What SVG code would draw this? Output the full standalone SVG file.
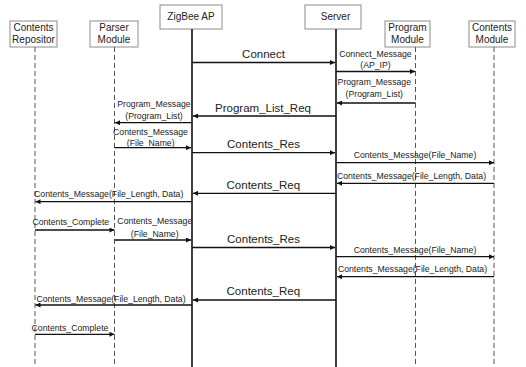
<svg xmlns="http://www.w3.org/2000/svg" width="526" height="367" viewBox="0 0 526 367">
<defs>
<marker id="ah" viewBox="0 0 10 10" refX="10" refY="5" markerWidth="6" markerHeight="5" markerUnits="userSpaceOnUse" orient="auto"><path d="M0,0 L10,5 L0,10 z" fill="#111"/></marker>
<style>
.box{fill:#fff;stroke:#8c8c8c;stroke-width:1}
text{font-family:"Liberation Sans",Arial,sans-serif;fill:#222;text-anchor:middle}
.bt{font-size:10px}
.life{stroke:#555;stroke-width:1;stroke-dasharray:5 3;fill:none}
.solid{stroke:#111;stroke-width:1.6;fill:none}
.msg{stroke:#111;stroke-width:1.3;fill:none;marker-end:url(#ah)}
.lg{font-size:11.5px}
.sm{font-size:8.7px}
</style>
</defs>
<rect width="526" height="367" fill="#fff"/>
<g id="repositor">
<rect class="box" x="10" y="21" width="47" height="26"/>
<text class="bt" x="33.5" y="31">Contents</text>
<text class="bt" x="33.5" y="43">Repositor</text>
<line class="life" x1="35" y1="47" x2="35" y2="367"/>
</g>
<g id="parser">
<rect class="box" x="90" y="21" width="48" height="26"/>
<text class="bt" x="114" y="31">Parser</text>
<text class="bt" x="114" y="43">Module</text>
<line class="life" x1="114.5" y1="47" x2="114.5" y2="367"/>
</g>
<g id="zigbee">
<rect class="box" x="160" y="5" width="62" height="24"/>
<text class="bt" x="191" y="20">ZigBee AP</text>
<line class="solid" x1="192" y1="29" x2="192" y2="367"/>
</g>
<g id="server">
<rect class="box" x="305" y="5" width="56" height="24"/>
<text class="bt" x="335.5" y="20">Server</text>
<line class="solid" x1="336" y1="29" x2="336" y2="367"/>
</g>
<g id="program">
<rect class="box" x="385" y="21" width="45" height="26"/>
<text class="bt" x="407.5" y="31">Program</text>
<text class="bt" x="407.5" y="43">Module</text>
<line class="life" x1="415.5" y1="47" x2="415.5" y2="367"/>
</g>
<g id="contents">
<rect class="box" x="469" y="21" width="46" height="26"/>
<text class="bt" x="492" y="31">Contents</text>
<text class="bt" x="492" y="43">Module</text>
<line class="life" x1="494" y1="47" x2="494" y2="367"/>
</g>
<g id="connectors">
<line class="msg" x1="192" y1="62.5" x2="335" y2="62.5"/>
<text class="lg" x="263.5" y="58">Connect</text>
<line class="msg" x1="336" y1="71.5" x2="415" y2="71.5"/>
<text class="sm" x="375.5" y="57.3">Connect_Message</text>
<text class="sm" x="375.5" y="67.8">(AP_IP)</text>
<line class="msg" x1="415.5" y1="103" x2="337" y2="103"/>
<text class="sm" x="374.3" y="85">Program_Message</text>
<text class="sm" x="374.3" y="96.5">(Program_List)</text>
<line class="msg" x1="336" y1="116" x2="193" y2="116"/>
<text class="lg" x="263" y="111.5">Program_List_Req</text>
<line class="msg" x1="192" y1="122.7" x2="115" y2="122.7"/>
<text class="sm" x="154" y="107.3">Program_Message</text>
<text class="sm" x="154" y="118.5">(Program_List)</text>
<line class="msg" x1="114.5" y1="147.7" x2="191" y2="147.7"/>
<text class="sm" x="150.5" y="135">Contents_Message</text>
<text class="sm" x="150.7" y="145.7">(File_Name)</text>
<line class="msg" x1="192" y1="152.7" x2="335" y2="152.7"/>
<text class="lg" x="263.5" y="148.3">Contents_Res</text>
<line class="msg" x1="336" y1="162.7" x2="494" y2="162.7"/>
<text class="sm" x="415" y="158.3">Contents_Message(File_Name)</text>
<line class="msg" x1="494" y1="183.3" x2="337" y2="183.3"/>
<text class="sm" x="411.5" y="179">Contents_Message(File_Length, Data)</text>
<line class="msg" x1="336" y1="193.3" x2="193" y2="193.3"/>
<text class="lg" x="263.3" y="189.3">Contents_Req</text>
<line class="msg" x1="192" y1="201.7" x2="35.5" y2="201.7"/>
<text class="sm" x="108.7" y="197.3">Contents_Message(File_Length, Data)</text>
<line class="msg" x1="35" y1="230" x2="114.5" y2="230"/>
<text class="sm" x="70.8" y="225.3">Contents_Complete</text>
<line class="msg" x1="114.5" y1="240" x2="191" y2="240"/>
<text class="sm" x="154.8" y="224.3">Contents_Message</text>
<text class="sm" x="154.7" y="236.5">(File_Name)</text>
<line class="msg" x1="192" y1="247.5" x2="335" y2="247.5"/>
<text class="lg" x="263.5" y="243.3">Contents_Res</text>
<line class="msg" x1="336" y1="256.7" x2="494" y2="256.7"/>
<text class="sm" x="415" y="252.7">Contents_Message(File_Name)</text>
<line class="msg" x1="494" y1="276.7" x2="337" y2="276.7"/>
<text class="sm" x="412.5" y="272.3">Contents_Message(File_Length, Data)</text>
<line class="msg" x1="336" y1="300" x2="193" y2="300"/>
<text class="lg" x="263.3" y="295">Contents_Req</text>
<line class="msg" x1="192" y1="305" x2="35.5" y2="305"/>
<text class="sm" x="111" y="301.7">Contents_Message(File_Length, Data)</text>
<line class="msg" x1="35" y1="334.3" x2="114.5" y2="334.3"/>
<text class="sm" x="70" y="330.7">Contents_Complete</text>
</g>
</svg>
